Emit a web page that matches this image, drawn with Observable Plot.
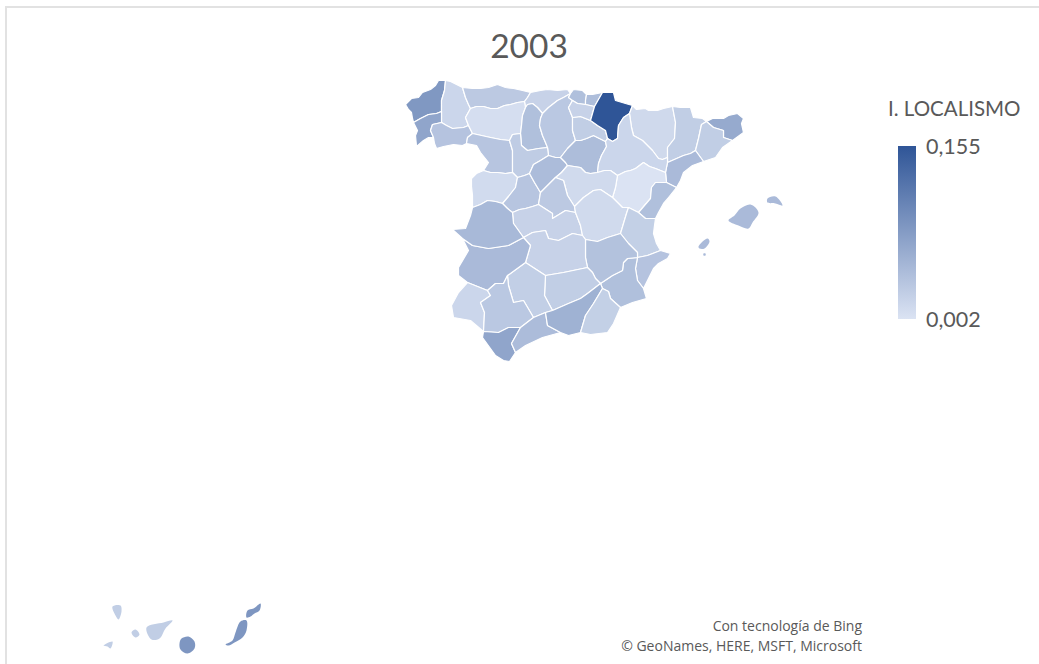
<!DOCTYPE html>
<html><head><meta charset="utf-8">
<script src="https://cdn.jsdelivr.net/npm/d3@7"></script>
<script src="https://cdn.jsdelivr.net/npm/@observablehq/plot@0.6"></script>
<style>
html,body{margin:0;padding:0;background:#fff;overflow:hidden}
#page{position:relative;width:1039px;height:664px;font-family:Lato,sans-serif;color:#595959}
#page svg{position:absolute;left:0;top:0}
.t{position:absolute;white-space:nowrap;line-height:1}
#frame{position:absolute;left:5px;top:6px;right:-3px;bottom:-3px;border:2px solid #e2e2e2;box-sizing:border-box}
</style></head><body>
<div id="page"><div id="frame"></div></div>
<script>
const title = "2003";
const legendTitle = "I. LOCALISMO";
const legendLabels = ["0,155", "0,002"];
const credits = ["Con tecnología de Bing", "© GeoNames, HERE, MSFT, Microsoft"];
const colorDomain = [0.002, 0.155];
const colorRange = ["#dbe3f3", "#2f5597"];

// Shared province borders (map x, map y), topology style
const borders = {
cor_coast:[[445,80],[438,80],[435,85],[430,89],[422,92],[418,97],[411,98],[405,104],[408,109],[411,112],[412,118],[413,122]],
cor_pont:[[413,122],[420,118],[428,114],[436,113],[441,111]],
cor_lugo:[[441,111],[441,100],[444,90],[445,80]],
lugo_coast:[[445,80],[450,81],[456,84],[462,87]],
ast_lugo:[[462,87],[465,97],[468,104],[470,108]],
lugo_leon:[[470,108],[465,117],[468,125]],
lugo_our:[[468,125],[463,127],[452,128],[446,125],[441,122]],
lugo_pont:[[441,111],[441,122]],
pont_our:[[441,122],[432,124],[430,130],[433,137]],
pont_coast:[[413,122],[417,130],[415,135],[416,146]],
pont_south:[[416,146],[423,140],[428,137],[433,137]],
our_south:[[433,137],[434,143],[436,148],[443,146],[453,144],[462,145],[466,143]],
our_leon:[[468,125],[472,133]],
our_zam:[[472,133],[467,137],[466,143]],
zam_por:[[466,143],[476,145],[480,152],[484,157],[488,162],[483,170]],
leon_zam:[[472,133],[490,137],[500,139],[509,140]],
ast_leon:[[470,108],[476,106],[483,106],[490,108],[497,108],[504,105],[510,104],[517,102],[524,101]],
ast_coast:[[462,87],[472,88],[480,88],[488,87],[497,84],[505,87],[513,88],[522,90],[530,92]],
ast_cant:[[530,92],[527,97],[524,101]],
cant_coast:[[530,92],[540,90],[547,89],[557,90],[567,89],[570,93]],
cant_bur:[[570,93],[563,97],[557,100],[548,107],[542,113]],
cant_pal:[[542,113],[537,107],[532,103],[527,104],[525,107]],
cant_leon:[[524,101],[525,107]],
leon_pal:[[525,107],[522,115],[521,125],[520,133]],
leon_vall:[[520,133],[512,134],[509,140]],
pal_bur:[[542,113],[540,118],[539,125],[542,135],[545,142],[547,147]],
pal_vall:[[520,133],[521,145],[527,150],[538,148],[547,147]],
bur_vall:[[547,147],[548,155]],
bur_seg:[[548,155],[555,157],[560,157]],
seg_vall:[[548,155],[540,160],[533,164],[529,173]],
vall_zam:[[509,140],[512,150],[512,160],[512,172]],
zam_sal:[[483,170],[490,172],[497,172],[505,173],[512,172]],
sal_vall:[[512,172],[517,177]],
vall_avi:[[517,177],[524,175],[529,173]],
sal_por:[[483,170],[476,173],[471,178],[471,186],[472,195],[472,207]],
sal_cac:[[472,207],[480,204],[487,200],[495,201],[502,203]],
sal_avi:[[517,177],[515,187],[508,196],[502,203]],
avi_cac:[[502,203],[507,208],[512,212]],
avi_tol:[[512,212],[519,209],[525,208],[532,206],[538,204]],
avi_mad:[[538,204],[540,192]],
avi_seg:[[529,173],[534,182],[540,192]],
seg_mad:[[540,192],[547,185],[555,177]],
seg_gua:[[567,165],[561,172],[555,177]],
seg_sor:[[560,157],[565,162],[567,165]],
bur_sor:[[560,157],[567,148],[575,140]],
bur_rio:[[575,140],[572,130],[572,117]],
bur_ala:[[572,117],[568,107],[572,100]],
bur_biz:[[572,100],[568,97],[570,93]],
biz_coast:[[570,93],[573,89],[582,90],[586,94]],
biz_gip:[[586,94],[585,100],[585,104]],
biz_ala:[[572,100],[577,103],[585,104]],
gip_coast:[[586,94],[592,94],[602,92]],
gip_nav:[[602,92],[598,99],[594,106]],
gip_ala:[[585,104],[594,106]],
ala_nav:[[594,106],[592,113],[590,120]],
ala_rio:[[572,117],[580,116],[585,118],[590,120]],
nav_rio:[[590,120],[597,125],[605,130],[607,138]],
nav_north:[[602,92],[607,92],[613,92],[615,100],[625,103],[632,105]],
nav_hsc:[[632,105],[629,113]],
nav_zar:[[629,113],[623,117],[618,125],[617,138],[612,141],[607,138]],
rio_zar:[[607,138],[605,141]],
rio_sor:[[605,141],[593,135],[586,138],[580,140],[575,140]],
sor_zar:[[605,141],[606,146],[601,155],[598,163],[597,172]],
sor_gua:[[567,165],[580,167],[585,172],[590,173],[597,172]],
zar_gua:[[597,172],[604,170],[610,170],[617,175]],
zar_ter:[[617,175],[625,171],[630,170],[635,168],[643,162],[649,166],[655,168],[665,172]],
gua_ter:[[617,175],[615,187],[612,197]],
zar_tar:[[665,172],[667,162]],
lle_zar:[[667,157],[667,162]],
hsc_zar:[[629,113],[630,120],[631,127],[633,135],[642,140],[652,150],[658,158],[662,159],[667,157]],
hsc_north:[[632,105],[636,109],[645,108],[648,110],[657,110],[663,108],[672,106]],
hsc_lle:[[672,106],[675,122],[674,138],[667,147],[667,157]],
lle_tar:[[667,162],[683,155],[690,153],[695,150]],
lle_north:[[672,106],[680,107],[690,107],[693,117],[702,118],[706,121]],
lle_bar:[[706,121],[701,124],[698,138],[695,150]],
gir_north:[[706,121],[712,118],[723,118],[728,115],[737,113],[743,118]],
gir_coast:[[743,118],[741,123],[743,132],[732,140]],
gir_bar:[[706,121],[713,127],[723,130],[723,137],[732,140]],
bar_coast:[[732,140],[722,147],[715,157],[703,161]],
bar_tar:[[695,150],[703,161]],
tar_coast:[[703,161],[692,165],[683,172],[680,180],[676,187]],
ter_tar:[[665,172],[666,182]],
cas_tar:[[666,182],[676,187]],
ter_cas:[[666,182],[655,182],[651,187],[650,198],[638,212]],
cas_coast:[[676,187],[668,197],[663,203],[658,212],[655,218]],
cas_val:[[655,218],[645,218],[638,212]],
ter_val:[[638,212],[628,207]],
val_cue:[[628,207],[626,213],[620,233]],
ter_cue:[[628,207],[622,207],[612,197]],
cue_gua:[[612,197],[600,189],[593,190],[583,197],[574,206]],
mad_gua:[[555,177],[563,180],[567,195],[574,206]],
mad_cue:[[574,206],[575,212]],
mad_tol:[[575,212],[565,210],[552,218],[552,213],[538,204]],
cue_tol:[[575,212],[580,225],[582,235]],
cue_cr:[[582,235],[585,239]],
cue_alb:[[585,239],[597,241],[607,237],[620,233]],
alb_val:[[620,233],[628,243],[637,252],[637,257]],
val_ali:[[637,257],[647,255],[660,250]],
val_coast:[[655,218],[654,225],[653,233],[656,243],[660,250]],
ali_coast:[[660,250],[670,253],[667,258],[658,263],[653,268],[649,276],[643,288]],
ali_mur:[[637,257],[635,268],[637,280],[643,288]],
alb_mur:[[637,257],[627,258],[623,262],[622,270],[612,275],[600,283]],
mur_coast:[[643,288],[646,298],[632,302],[620,307]],
mur_alm:[[620,307],[610,298],[608,291],[602,288]],
mur_gra:[[600,283],[602,288]],
alb_cr:[[585,239],[585,257],[587,267]],
alb_jae:[[587,267],[592,272],[595,278],[600,283]],
gra_alm:[[602,288],[593,303],[585,315],[580,332]],
alm_coast:[[620,307],[613,323],[607,332],[590,334],[580,332]],
gra_coast:[[580,332],[568,335],[560,332]],
gra_mal:[[545,312],[547,325],[560,332]],
gra_jae:[[600,283],[587,293],[580,298],[568,303],[552,310]],
cor_gra:[[552,310],[545,312]],
cor_mal:[[545,312],[533,317]],
cor_jae:[[545,275],[544,295],[552,310]],
cr_jae:[[545,275],[563,272],[587,267]],
cr_cor:[[525,262],[545,275]],
cr_bad:[[523,237],[530,245],[525,262]],
cac_tol:[[512,212],[513,223],[523,237]],
tol_cr:[[582,235],[572,233],[558,240],[548,238],[545,230],[532,232],[523,237]],
cac_bad:[[523,237],[508,245],[488,248],[472,245],[462,238]],
cor_bad:[[525,262],[507,275]],
bad_sev:[[507,275],[503,283],[495,283],[487,290]],
bad_hlv:[[487,290],[467,282]],
cor_sev:[[507,275],[508,285],[513,302],[523,300],[533,317]],
sev_hlv:[[487,290],[490,295],[480,302],[484,312],[483,331]],
hlv_por:[[467,282],[458,292],[451,305],[453,317]],
hlv_coast:[[453,317],[470,320],[483,331]],
sev_cad:[[483,331],[498,332],[508,327],[520,327]],
sev_mal:[[520,327],[533,317]],
cad_coast:[[483,331],[482,337],[495,355],[503,360],[509,361],[515,352]],
cad_mal:[[520,327],[511,343],[515,352]],
mal_coast:[[515,352],[525,345],[542,337],[560,332]],
bad_por:[[462,238],[468,250],[458,267],[458,275],[467,282]],
cac_por:[[472,207],[470,215],[465,228],[452,229],[462,238]],
};

const mainlandNames = ["A Coruña","Lugo","Pontevedra","Ourense","Asturias","Cantabria","León","Palencia","Burgos","Zamora","Valladolid","Salamanca","Ávila","Segovia","Soria","La Rioja","Bizkaia","Gipuzkoa","Álava","Navarra","Huesca","Lleida","Girona","Barcelona","Tarragona","Zaragoza","Teruel","Castellón","Guadalajara","Madrid","Toledo","Cuenca","Valencia","Alicante","Murcia","Albacete","Ciudad Real","Jaén","Córdoba","Badajoz","Cáceres","Huelva","Sevilla","Cádiz","Málaga","Granada","Almería"];
const mainlandValues = [0.083,0.016,0.069,0.036,0.030,0.020,0.007,0.040,0.031,0.034,0.027,0.011,0.034,0.044,0.043,0.025,0.040,0.042,0.020,0.155,0.013,0.025,0.063,0.025,0.046,0.016,0.002,0.040,0.012,0.030,0.020,0.012,0.023,0.036,0.040,0.038,0.020,0.025,0.024,0.046,0.047,0.016,0.031,0.069,0.044,0.055,0.023];
const mainlandRings = [
["cor_coast","cor_pont","cor_lugo"],
["lugo_coast","ast_lugo","lugo_leon","lugo_our","lugo_pont","cor_lugo"],
["cor_pont","lugo_pont","pont_our","pont_south","pont_coast"],
["lugo_our","our_leon","our_zam","our_south","pont_our"],
["ast_coast","ast_cant","ast_leon","ast_lugo"],
["cant_coast","cant_bur","cant_pal","cant_leon","ast_cant"],
["ast_leon","cant_leon","leon_pal","leon_vall","leon_zam","our_leon","lugo_leon"],
["cant_pal","pal_bur","pal_vall","leon_pal"],
["cant_bur","pal_bur","bur_vall","bur_seg","bur_sor","bur_rio","bur_ala","bur_biz"],
["leon_zam","vall_zam","zam_sal","zam_por","our_zam"],
["pal_vall","bur_vall","seg_vall","vall_avi","sal_vall","vall_zam","leon_vall"],
["zam_sal","sal_vall","sal_avi","sal_cac","sal_por"],
["vall_avi","avi_seg","avi_mad","avi_tol","avi_cac","sal_avi"],
["bur_seg","seg_sor","seg_gua","seg_mad","avi_seg","seg_vall"],
["bur_sor","rio_sor","sor_zar","sor_gua","seg_sor"],
["ala_rio","nav_rio","rio_zar","rio_sor","bur_rio"],
["biz_coast","biz_gip","biz_ala","bur_biz"],
["gip_coast","gip_nav","gip_ala","biz_gip"],
["biz_ala","gip_ala","ala_nav","ala_rio","bur_ala"],
["gip_nav","nav_north","nav_hsc","nav_zar","nav_rio","ala_nav"],
["hsc_north","hsc_lle","hsc_zar","nav_hsc"],
["lle_north","lle_bar","lle_tar","lle_zar","hsc_lle"],
["gir_north","gir_coast","gir_bar"],
["gir_bar","bar_coast","bar_tar","lle_bar"],
["lle_tar","bar_tar","tar_coast","cas_tar","ter_tar","zar_tar"],
["rio_zar","nav_zar","hsc_zar","lle_zar","zar_tar","zar_ter","zar_gua","sor_zar"],
["zar_ter","ter_tar","ter_cas","ter_val","ter_cue","gua_ter"],
["ter_cas","cas_tar","cas_coast","cas_val"],
["sor_gua","zar_gua","gua_ter","cue_gua","mad_gua","seg_gua"],
["seg_mad","mad_gua","mad_cue","mad_tol","avi_mad"],
["avi_tol","mad_tol","cue_tol","tol_cr","cac_tol"],
["ter_cue","cue_gua","mad_cue","cue_tol","cue_cr","cue_alb","val_cue"],
["ter_val","cas_val","val_coast","val_ali","alb_val","val_cue"],
["val_ali","ali_coast","ali_mur"],
["ali_mur","mur_coast","mur_alm","mur_gra","alb_mur"],
["cue_alb","alb_val","alb_mur","alb_jae","alb_cr"],
["tol_cr","cue_cr","alb_cr","cr_jae","cr_cor","cr_bad"],
["cr_jae","alb_jae","gra_jae","cor_jae"],
["cr_cor","cor_jae","cor_gra","cor_mal","cor_sev","cor_bad"],
["cac_bad","cr_bad","cor_bad","bad_sev","bad_hlv","bad_por"],
["sal_cac","avi_cac","cac_tol","cac_bad","cac_por"],
["bad_hlv","sev_hlv","hlv_coast","hlv_por"],
["bad_sev","cor_sev","sev_mal","sev_cad","sev_hlv"],
["sev_cad","cad_mal","cad_coast"],
["sev_mal","cor_mal","gra_mal","mal_coast","cad_mal"],
["gra_jae","mur_gra","gra_alm","gra_coast","gra_mal","cor_gra"],
["mur_alm","alm_coast","gra_alm"],
];

const islandNames = ["Mallorca","Menorca","Ibiza","Formentera","La Palma","La Gomera","El Hierro","Tenerife","Gran Canaria","Fuerteventura","Lanzarote"];
const islandValues = [0.046,0.046,0.046,0.046,0.025,0.025,0.025,0.025,0.085,0.085,0.085];
const islandOutlines = [
[[728,220],[734,215],[740,208],[750,204],[758,212],[752,222],[748,228],[738,225]],
[[767,198],[775,196],[782,205],[775,203],[767,202]],
[[698,246],[707,238],[709,241],[704,248],[699,248]],
[[703,253],[705,253],[705,255],[703,255]],
[[112,606],[120,605],[121,611],[118,619],[115,615]],
[[131,632],[135,629],[139,634],[135,637]],
[[103,645],[112,641],[110,648],[107,646]],
[[146,627],[163,622],[172,620],[165,628],[159,638],[151,639]],
[[181,638],[188,636],[194,641],[194,648],[187,653],[180,649],[179,643]],
[[225,644],[232,640],[235,632],[240,621],[246,620],[246,630],[242,637],[234,642],[228,645]],
[[246,617],[247,610],[253,608],[260,603],[259,610],[254,613],[250,616]],
];

// join the shared borders of a ring, turning each one to follow the last
const same = (a, b) => a[0] === b[0] && a[1] === b[1];
function chain(names) {
  const arcs = names.map(n => borders[n]);
  const next = arcs[1];
  let pts = [...arcs[0]];
  const last = pts[pts.length - 1];
  if (!same(last, next[0]) && !same(last, next[next.length - 1])) pts.reverse();
  for (const arc of arcs.slice(1)) {
    const end = pts[pts.length - 1];
    const a = same(end, arc[0]) ? arc : [...arc].reverse();
    if (!same(end, a[0])) console.error("broken ring", names, end, a[0]);
    pts = pts.concat(a.slice(1));
  }
  return pts;
}

const mainlandRows = mainlandNames.flatMap((name, i) =>
  chain(mainlandRings[i]).map(([mx, my]) => ({name, value: mainlandValues[i], mx, my})));
const islandRows = islandNames.flatMap((name, i) =>
  islandOutlines[i].map(([mx, my]) => ({name, value: islandValues[i], mx, my})));

const plot = Plot.plot({
  width: 1039, height: 664, margin: 0,
  style: {background: "transparent"},
  x: {domain: [0, 1039], range: [0, 1039], axis: null},
  y: {domain: [0, 664], range: [0, 664], axis: null},
  color: {type: "linear", domain: colorDomain, range: colorRange},
  marks: [
    Plot.line(mainlandRows, {x: "mx", y: "my", z: "name", fill: "value", stroke: "#fff",
      strokeWidth: 1.2, curve: "linear-closed", strokeLinejoin: "round"}),
    Plot.line(islandRows, {x: "mx", y: "my", z: "name", fill: "value", stroke: "none",
      curve: "catmull-rom-closed"})
  ]
});
const page = document.getElementById("page");
page.appendChild(plot);

function addText(txt, css) {
  const d = document.createElement("div");
  d.className = "t"; d.textContent = txt; d.style.cssText = css; page.appendChild(d);
}
addText(title, "left:429px;width:200px;text-align:center;top:29px;font-size:33.5px");
addText(legendTitle, "left:888px;top:98px;font-size:20.5px");
addText(legendLabels[0], "left:926px;top:136px;font-size:21.5px");
addText(legendLabels[1], "left:926px;top:309px;font-size:21.5px");
addText(credits[0], "right:177px;top:616px;font:14px 'Open Sans',sans-serif");
addText(credits[1], "right:177px;top:636px;font:14px 'Open Sans',sans-serif");

const scale = plot.scale("color");
const bar = document.createElement("div");
bar.style.cssText = "position:absolute;left:898px;top:146px;width:18px;height:173px;background:linear-gradient(to top," +
  scale.apply(colorDomain[0]) + "," + scale.apply(colorDomain[1]) + ")";
page.appendChild(bar);
</script>
</body></html>
